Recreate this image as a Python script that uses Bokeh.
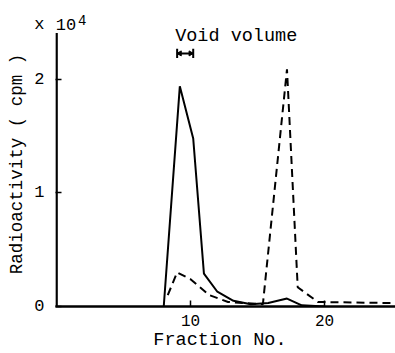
from bokeh.plotting import figure
from bokeh.models import Range1d, FixedTicker, Label
from bokeh.embed import file_html
from bokeh.resources import INLINE

# Data (values in units of 10^4 cpm)
frac_solid = [8.0, 9.2, 10.2, 11.0, 12.0, 13.2, 14.5, 15.8, 17.2, 18.3, 20.0]
cpm_solid = [0.0, 1.94, 1.48, 0.29, 0.13, 0.05, 0.02, 0.03, 0.07, 0.01, 0.0]

frac_dashed = [8.3, 9.0, 10.0, 11.4, 12.8, 15.4, 17.2, 18.0, 19.5, 25.3]
cpm_dashed = [0.10, 0.30, 0.24, 0.10, 0.04, 0.02, 2.09, 0.17, 0.04, 0.03]

x_ticks = [10, 20]
y_ticks = [0, 1, 2]
y_unit_pos = 2.485          # where the "x 10^4" unit marker sits
y_axis_top = 2.41
void_x = [9.0, 10.2]
void_y = 2.23

FONT = "Liberation Mono"
NB = "\u00a0"

p = figure(width=395, height=353, output_backend="svg", toolbar_location=None,
           x_range=Range1d(-0.08, 25.3), y_range=Range1d(0, 2.696),
           min_border_left=55, min_border_right=0, min_border_top=0,
           min_border_bottom=47)
p.outline_line_color = None
p.grid.visible = False
p.background_fill_color = "white"
p.border_fill_color = "white"

# y axis line (only up to its top end)
p.segment(x0=[0], y0=[0], x1=[0], y1=[y_axis_top], line_color="black", line_width=2.5)

p.line(frac_solid, cpm_solid, line_color="black", line_width=2)
p.line(frac_dashed, cpm_dashed, line_color="black", line_width=2, line_dash="8 5")

# void volume marker
p.segment(x0=[void_x[0]], y0=[void_y], x1=[void_x[1]], y1=[void_y], line_color="black", line_width=2)
p.segment(x0=void_x, y0=[void_y - 0.04] * 2, x1=void_x, y1=[void_y + 0.04] * 2, line_color="black", line_width=2)
p.scatter(x=[void_x[0] + 0.2], y=[void_y], marker="triangle", angle=1.5708, size=5, color="black")
p.scatter(x=[void_x[1] - 0.2], y=[void_y], marker="triangle", angle=-1.5708, size=5, color="black")

p.add_layout(Label(x=8.85, y=2.38, text="Void volume", text_font=FONT, text_font_size="18.5px",
                   text_baseline="middle", text_align="left", text_color="black"))
p.add_layout(Label(x=-0.06, y=y_unit_pos, text="10", text_font=FONT, text_font_size="17px",
                   text_baseline="middle", text_align="left", text_color="black"))
p.add_layout(Label(x=1.6, y=2.525, text="4", text_font=FONT, text_font_size="14px",
                   text_baseline="middle", text_align="left", text_color="black"))

for ax in (p.xaxis[0], p.yaxis[0]):
    ax.axis_line_width = 2.5
    ax.axis_line_color = "black"
    ax.major_tick_in = 6
    ax.major_tick_out = 0
    ax.major_tick_line_width = 1.5
    ax.minor_tick_line_color = None
    ax.major_label_text_font = FONT
    ax.major_label_text_font_size = "17px"
    ax.major_label_text_color = "black"
    ax.axis_label_text_font = FONT
    ax.axis_label_text_font_style = "normal"
    ax.axis_label_text_color = "black"

p.xaxis.ticker = FixedTicker(ticks=x_ticks)
p.xaxis.major_label_text_font_size = "16px"

# y axis: labels at major ticks (incl. the "x" of the unit), visible marks via minor ticks
p.yaxis.axis_line_color = None
p.yaxis.ticker = FixedTicker(ticks=y_ticks + [y_unit_pos], minor_ticks=y_ticks)
p.yaxis.major_label_overrides = {y_unit_pos: "x"}
p.yaxis.major_tick_line_color = None
p.yaxis.minor_tick_line_color = "black"
p.yaxis.minor_tick_line_width = 1.5
p.yaxis.minor_tick_in = 6
p.yaxis.minor_tick_out = 0

p.xaxis.axis_label = "Fraction No." + NB
p.yaxis.axis_label = "Radioactivity ( cpm )" + NB * 2
p.xaxis.axis_label_text_font_size = "18.5px"
p.yaxis.axis_label_text_font_size = "17.5px"
p.xaxis.major_label_standoff = 8
p.yaxis.major_label_standoff = 11
p.xaxis.axis_label_standoff = 1
p.yaxis.axis_label_standoff = 4

open("out.html", "w").write(file_html(p, INLINE))
